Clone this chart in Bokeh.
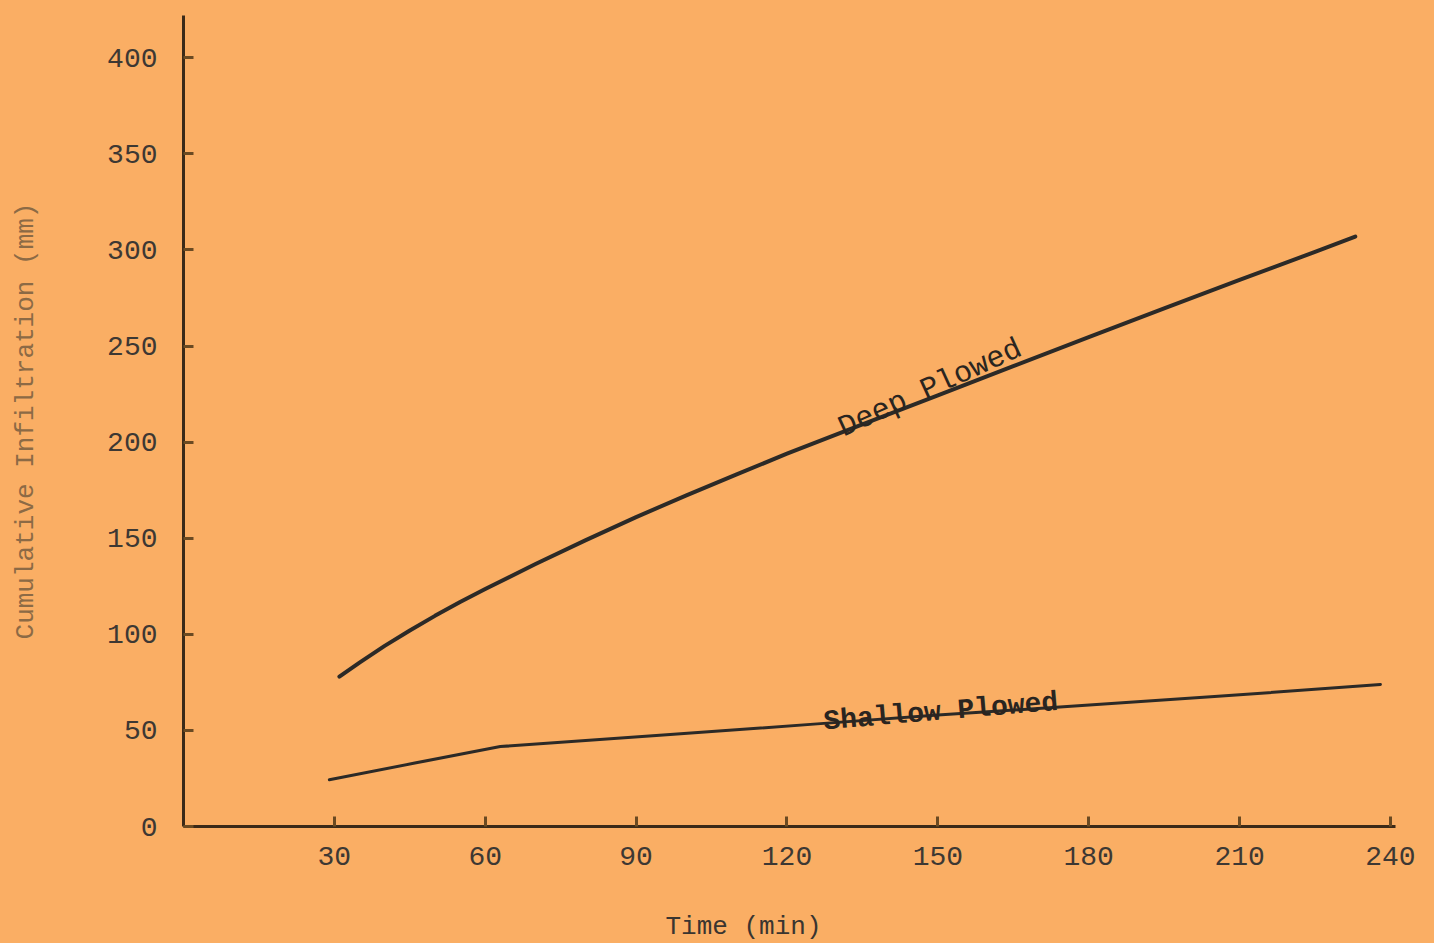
from bokeh.plotting import figure
from bokeh.models import Range1d, FixedTicker, Title
from bokeh.core.properties import value
from bokeh.embed import file_html
from bokeh.resources import INLINE

# ---- data ----
x_ticks = [30, 60, 90, 120, 150, 180, 210, 240]
y_ticks = [0, 50, 100, 150, 200, 250, 300, 350, 400]

deep_time = [31, 35, 40, 45, 50, 55, 60, 70, 80, 90, 100, 110, 120, 135, 150, 165, 180, 195, 210, 225, 233]
deep_infil = [78, 85.3, 94, 102, 109.6, 116.8, 123.6, 136.6, 149, 161, 172.3, 183.2, 194, 209.3, 224.3, 239.5, 254.6, 269.6, 284.4, 299, 307]

shallow_time = [29, 46, 63, 94, 126, 150, 175, 205, 238]
shallow_infil = [24.3, 33, 41.6, 47.3, 53.4, 58, 62.3, 67.6, 73.9]

series_names = ["Deep Plowed", "Shallow Plowed"]
x_title = "Time (min)"
y_title = "Cumulative Infiltration (mm)"

BG = "#FAAE64"
INK = "#2c2a27"
AXIS = "#3b2a18"
TICK = "#6a4a22"
TXT = "#3d3833"
MONO = "Liberation Mono"

p = figure(width=1434, height=943, output_backend="svg", toolbar_location=None,
           x_range=Range1d(0, 241), y_range=Range1d(0, 422),
           min_border_left=183, min_border_right=39, min_border_top=15, min_border_bottom=117)
p.background_fill_color = BG
p.border_fill_color = BG
p.outline_line_color = None
p.xgrid.visible = False
p.ygrid.visible = False

for ax in (p.xaxis[0], p.yaxis[0]):
    ax.axis_line_color = AXIS
    ax.axis_line_width = 3
    ax.major_tick_line_color = TICK
    ax.major_tick_line_width = 3
    ax.major_tick_in = 10
    ax.major_tick_out = 0
    ax.minor_tick_line_color = None
    ax.major_label_text_font = MONO
    ax.major_label_text_font_size = "28px"
    ax.major_label_text_color = TXT

p.xaxis[0].ticker = FixedTicker(ticks=x_ticks)
p.yaxis[0].ticker = FixedTicker(ticks=y_ticks)
p.xaxis[0].major_label_standoff = 20
p.yaxis[0].major_label_standoff = 26

p.yaxis[0].axis_label = y_title
p.yaxis[0].axis_label_text_font = MONO
p.yaxis[0].axis_label_text_font_size = "26px"
p.yaxis[0].axis_label_text_font_style = "normal"
p.yaxis[0].axis_label_text_color = "#8c6a45"
p.yaxis[0].axis_label_standoff = 63

# x-axis title, below the axis and left of centre as in the reference
xt = Title(text=x_title, align="left", offset=482, vertical_align="top", standoff=0,
           text_font=MONO, text_font_size="26px", text_font_style="normal",
           text_color="#3a3530")
try:
    xt.padding = dict(left=0, right=0, top=44, bottom=0)
except Exception:
    xt.vertical_align = "bottom"
    xt.standoff = 44
p.add_layout(xt, "below")

# curves
p.line(deep_time, deep_infil, line_color=INK, line_width=4, line_join="round", line_cap="round")
p.line(shallow_time, shallow_infil, line_color=INK, line_width=3, line_join="round", line_cap="round")

# in-line labels
p.text(x=[148.5], y=[228.0], text=[series_names[0]], angle=24.5, angle_units="deg",
       text_font=value(MONO), text_font_size="30px", text_color="#2a2520",
       text_align="center", text_baseline="alphabetic")
p.text(x=[150.6], y=[59.5], text=[series_names[1]], angle=4.8, angle_units="deg",
       text_font=value(MONO), text_font_size="28px", text_font_style="bold",
       text_color="#2a2520", text_align="center", text_baseline="alphabetic")

html = file_html(p, INLINE)
html = html.replace("<head>", "<head><style>html,body{background:%s;overflow:hidden;}</style>" % BG, 1)
open("out.html", "w").write(html)
